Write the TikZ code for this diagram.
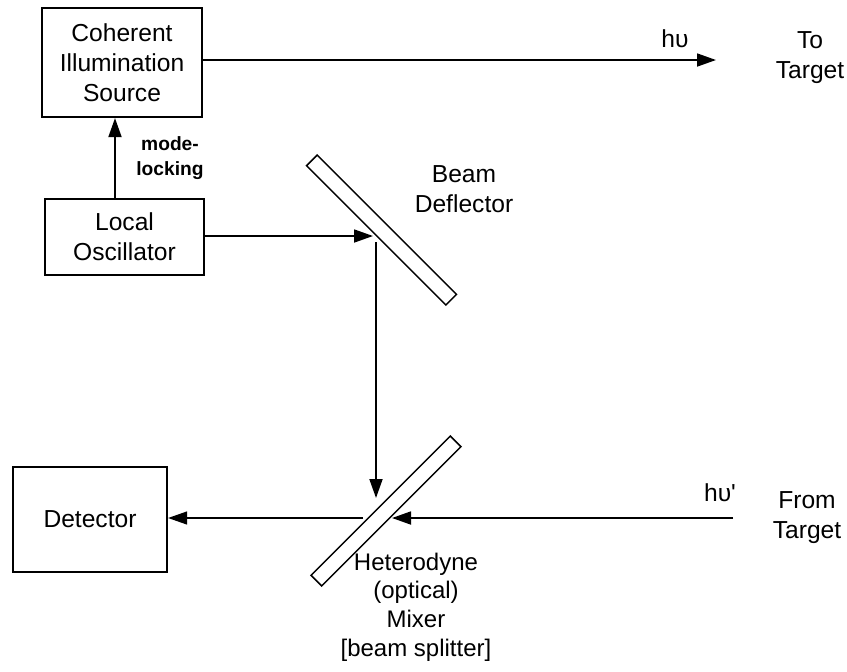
\documentclass[tikz,border=0pt]{standalone}
\usepackage{fontspec}
\setmainfont{Liberation Sans}
\usetikzlibrary{arrows.meta}
\newcommand{\lenmirror}{98.5pt}
\newcommand{\widthmirror}{7.5pt}
\tikzset{
    common/.style={draw, line width=1.1pt, rectangle, align=center, inner sep=0pt, font=\fontsize{12.3}{15}\selectfont},
    unit/.style={common},
    mirror/.style={draw, line width=0.75pt, rectangle, minimum width=\lenmirror, minimum height=\widthmirror, inner sep=0pt},
    beam/.style={-{Triangle[length=9.5pt, width=6.5pt]}, line width=0.9pt},
    caption/.style={align=center, inner sep=0pt, font=\fontsize{12.3}{15}\selectfont},
}

\begin{document}
\begin{tikzpicture}[x=0.5pt, y=-0.5pt]
    \useasboundingbox (0,0) rectangle (847,671);

    % boxes
    \node[unit, minimum width=80pt, minimum height=54.5pt] (src) at (122,62.5) {Coherent\\Illumination\\Source};
    \node[unit, minimum width=79.5pt, minimum height=38pt] (lo) at (124.5,237) {Local\\Oscillator};
    \node[unit, minimum width=77pt, minimum height=52.5pt] (det) at (90,519.5) {Detector};

    % mirrors
    \node[mirror, rotate=-45] (defl) at (381.5,230) {};
    \node[mirror, rotate=45] (mix) at (386,511) {};

    % labels
    \node[caption, font=\fontsize{9.6}{12.5}\selectfont\bfseries] (lock) at (170,158) {mode-\\locking};
    \node[caption] (hv) at (675,39) {hυ};
    \node[caption] (hvb) at (720,493) {hυ\textquotesingle};
    \node[caption] (to) at (810,58) {To\\Target};
    \node[caption] (from) at (807,518) {From\\Target};
    \node[caption] (defltext) at (464,189) {Beam\\Deflector};
    \node[caption, font=\fontsize{12}{14.3}\selectfont] (mixtext) at (416,607) {Heterodyne\\(optical)\\Mixer\\[0pt][beam splitter]};

    % beam points
    \coordinate (lockx) at (115,0);
    \coordinate (totip) at (716,60);
    \coordinate (hitD) at (373,236);
    \coordinate (outD) at (376,242);
    \coordinate (inM) at (376,498);
    \coordinate (fromT) at (733,518);
    \coordinate (hitM) at (392,518);
    \coordinate (outM) at (363,518);

    \draw[beam] (lo.north -| lockx) -- (src.south -| lockx);
    \draw[beam] (src.east |- totip) -- (totip);
    \draw[beam] (lo.east |- hitD) -- (hitD);
    \draw[beam] (outD) -- (inM);
    \draw[beam] (fromT) -- (hitM);
    \draw[beam, line width=0.6pt] (outM) -- (det.east |- outM);
\end{tikzpicture}
\end{document}
